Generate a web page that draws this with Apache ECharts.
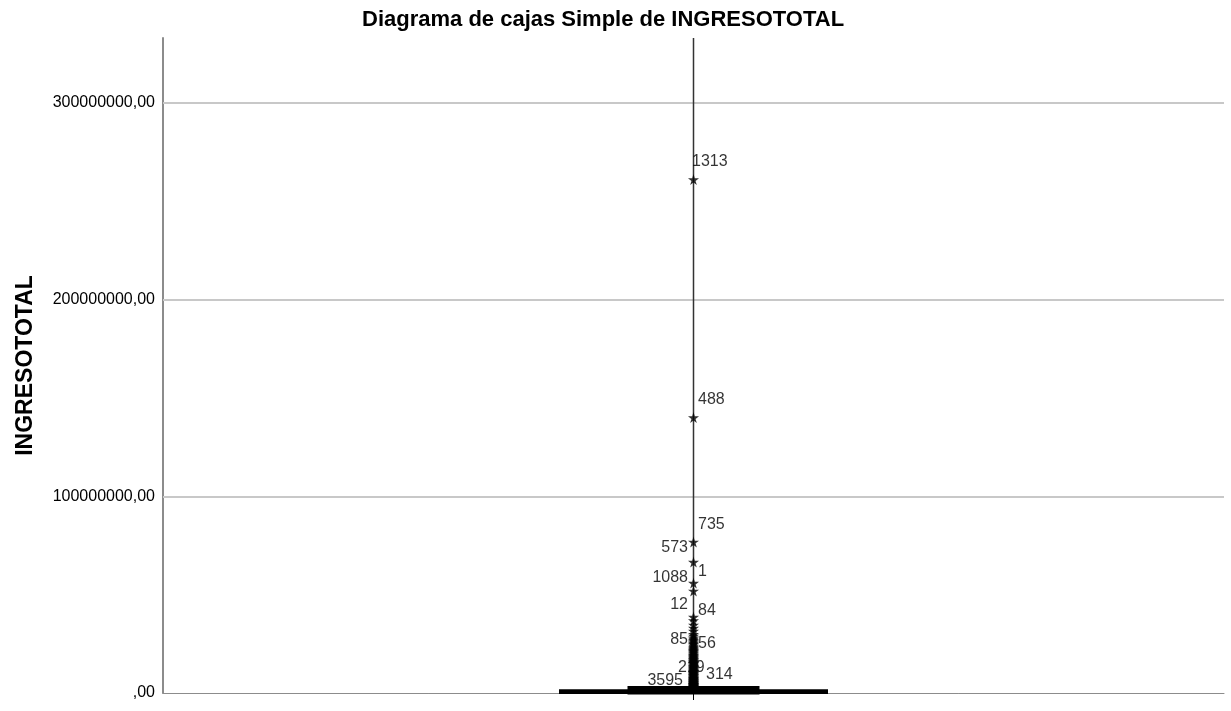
<!DOCTYPE html>
<html>
<head>
<meta charset="utf-8">
<script src="https://cdn.jsdelivr.net/npm/echarts@6/dist/echarts.min.js"></script>
<style>html,body{margin:0;padding:0;background:#fff;}#c{width:1231px;height:711px;}</style>
</head>
<body>
<div id="c"></div>
<script>
// ---- data ----
const categories = [''];
const yTicks = [0, 100000000, 200000000, 300000000];
// box summary: [lower whisker, Q1, median, Q3, upper whisker]
const boxStats = [0, 200000, 600000, 1200000, 2500000];
// extreme values (stars)
const extremeValues = [
  261000000, 140000000, 76800000, 66600000, 55900000, 51900000,
  38600000, 36800000, 34600000, 33000000, 31500000, 29800000, 29000000, 28100000, 27500000,
  26800000, 26200000, 25500000, 25000000, 24600000, 23900000, 23300000, 22800000, 22200000, 21700000, 21300000, 20900000,
  20500000, 20100000, 19600000, 19200000, 18800000, 18400000, 18000000, 17600000, 17200000, 16900000, 16500000, 16100000, 15700000, 15400000,
  15100000, 14800000, 14400000, 14000000, 13600000, 13300000, 13000000, 12700000, 12400000, 12100000, 11700000, 11400000, 11100000, 10900000,
  10600000, 10300000, 10000000, 9800000, 9500000, 9200000, 8900000, 8700000, 8400000, 8100000, 7800000, 7600000, 7400000, 7200000, 7000000, 6800000,
  6500000, 6300000, 6100000, 5900000, 5700000, 5500000, 5300000, 5100000, 4900000, 4700000, 4500000, 4400000, 4200000, 4000000, 3800000, 3700000,
  3500000, 3400000, 3200000, 3100000, 2900000, 2800000
];
// labelled cases
const labelCases  = ['1313', '488', '735', '573', '1', '1088', '12', '84', '85', '56', '219', '314', '3595'];
const labelValues = [261000000, 140000000, 76800000, 66600000, 55900000, 51900000, 38600000, 36800000, 23900000, 22800000, 6300000, 3700000, 2800000];

// ---- placement of labels (style only) ----
const labelPlace = {
  '1313': ['right', -6, -18],
  '488':  ['right', 0, -18],
  '735':  ['right', 0, -17],
  '573':  ['left', -1, -14],
  '1':    ['right', 0, -11],
  '1088': ['left', -1, -13],
  '12':   ['left', -1, -12],
  '84':   ['right', 0, -10],
  '85':   ['left', -1, -6],
  '56':   ['right', 0, -5],
  '219':  ['right', -20, -13],
  '314':  ['right', 8, -11],
  '3595': ['left', -6, -7]
};

const yMax = 333000000;
const star = 'path://M50,0 L61,35 L98,35 L68,57 L79,91 L50,70 L21,91 L32,57 L2,35 L39,35 Z';
const font = '"Liberation Sans", Arial, sans-serif';

const chart = echarts.init(document.getElementById('c'), null, {renderer: 'canvas'});

const labelData = labelCases.map((c, i) => {
  const p = labelPlace[c];
  return {
    value: [0, labelValues[i]],
    name: c,
    label: {position: p[0], offset: [p[1], p[2]], distance: 4}
  };
});

chart.setOption({
  animation: false,
  backgroundColor: '#ffffff',
  title: {
    text: 'Diagrama de cajas Simple de INGRESOTOTAL',
    left: 357,
    top: 4,
    textStyle: {fontFamily: font, fontSize: 22, fontWeight: 'bold', color: '#000'}
  },
  grid: {left: 163, right: 7, top: 38, bottom: 18, containLabel: false},
  xAxis: {
    type: 'category',
    data: categories,
    axisLine: {show: true, lineStyle: {color: '#8c8c8c', width: 1}},
    axisTick: {show: true, alignWithLabel: true, length: 7, lineStyle: {color: '#000', width: 1}},
    axisLabel: {show: false},
    splitLine: {show: false}
  },
  yAxis: {
    type: 'value',
    min: 0,
    max: yMax,
    interval: 100000000,
    name: 'INGRESOTOTAL',
    nameLocation: 'middle',
    nameGap: 126,
    nameRotate: 90,
    nameTextStyle: {fontFamily: font, fontSize: 23, fontWeight: 'bold', color: '#000'},
    axisLine: {show: true, lineStyle: {color: '#8c8c8c', width: 2}},
    axisTick: {show: false},
    axisLabel: {
      fontFamily: font, fontSize: 16, color: '#000', margin: 8,
      showMaxLabel: false,
      formatter: v => (yTicks.indexOf(v) < 0 ? '' : (v === 0 ? ',00' : String(v) + ',00'))
    },
    splitLine: {show: false}
  },
  series: [
    {
      // long vertical reference line through the category, plus horizontal gridlines
      type: 'line',
      data: [[0, 0], [0, yMax]],
      symbol: 'none',
      lineStyle: {color: '#333', width: 1.5},
      z: 2,
      silent: true,
      markLine: {
        silent: true,
        symbol: 'none',
        label: {show: false},
        lineStyle: {color: '#c8c8c8', width: 2, type: 'solid'},
        z: 1,
        data: yTicks.filter(v => v > 0).map(v => ({yAxis: v}))
      }
    },
    {
      type: 'custom',
      z: 4,
      data: [[0].concat(boxStats)],
      renderItem: function (params, api) {
        const lo = api.coord([0, api.value(1)]);
        const q1 = api.coord([0, api.value(2)]);
        const md = api.coord([0, api.value(3)]);
        const q3 = api.coord([0, api.value(4)]);
        const hi = api.coord([0, api.value(5)]);
        const cx = q1[0];
        const bw = 266 / 2, cw = 132 / 2;
        const st = {stroke: '#000', lineWidth: 3, fill: null};
        return {
          type: 'group',
          children: [
            {type: 'rect', shape: {x: cx - bw, y: q3[1], width: 2 * bw, height: q1[1] - q3[1]}, style: {stroke: '#000', fill: '#000', lineWidth: 3}},
            {type: 'line', shape: {x1: cx - bw, y1: md[1], x2: cx + bw, y2: md[1]}, style: st},
            {type: 'line', shape: {x1: cx, y1: q3[1], x2: cx, y2: hi[1]}, style: st},
            {type: 'line', shape: {x1: cx - cw, y1: hi[1], x2: cx + cw, y2: hi[1]}, style: {stroke: '#000', lineWidth: 4}},
            {type: 'line', shape: {x1: cx - cw, y1: lo[1], x2: cx + cw, y2: lo[1]}, style: st}
          ]
        };
      }
    },
    {
      // labels drawn beneath the stars
      type: 'scatter',
      z: 3,
      symbolSize: 1,
      itemStyle: {color: 'rgba(0,0,0,0)'},
      label: {
        show: true,
        formatter: p => p.name,
        fontFamily: font, fontSize: 16, color: '#000'
      },
      data: labelData,
      silent: true
    },
    {
      type: 'scatter',
      z: 5,
      symbol: star,
      symbolSize: 11,
      itemStyle: {color: '#000'},
      data: extremeValues.map(v => [0, v]),
      silent: true
    }
  ]
});
</script>
</body>
</html>
